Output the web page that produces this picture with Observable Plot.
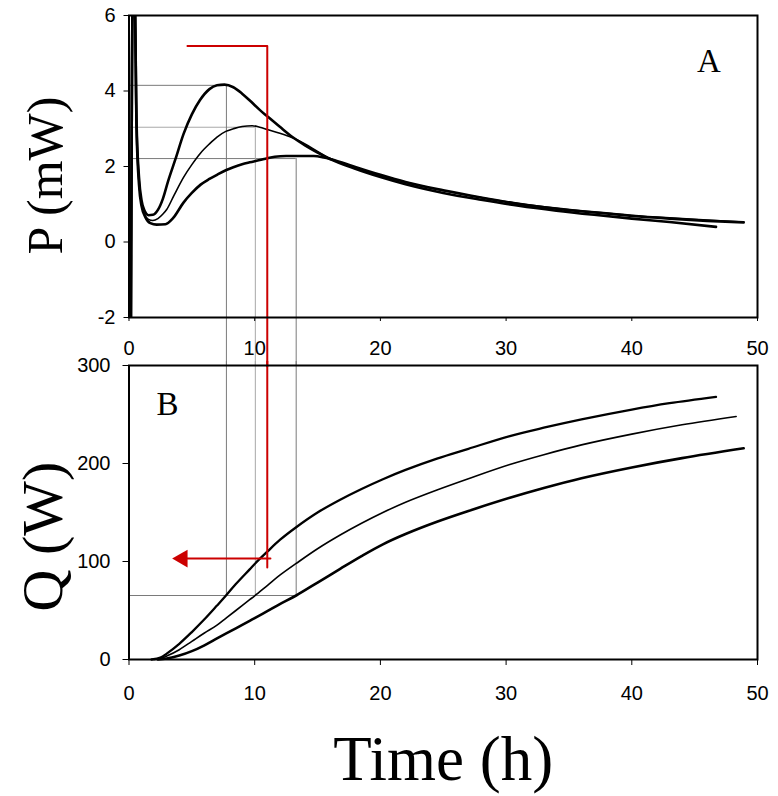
<!DOCTYPE html>
<html><head><meta charset="utf-8">
<script src="https://cdn.jsdelivr.net/npm/d3@7"></script>
<script src="https://cdn.jsdelivr.net/npm/@observablehq/plot@0.6"></script>
<style>
body{margin:0;background:#fff;}
#wrap{position:relative;width:778px;height:796px;background:#fff;overflow:hidden;}
#wrap svg{position:absolute;left:0;top:0;}
</style></head><body><div id="wrap"></div>
<script>
// ---------- Panel A : heat flow P (mW) vs time (h) ----------
const tA1 = [0.15,0.3,0.45,0.6,0.8,1.0,1.25,1.55,1.9,2.3,2.7,3.1,3.7,4.35,5.0,5.65,6.4,7.0,7.6,8.3,9.0,9.7,10.4,11.0,12.0,13.0,14.0,15.0,16.0,18.0,20.0,22.0,25.0,28.0,31.0,34.0,37.0,40.0,43.0,46.7];
const pA1 = [-2.5,6.5,6.5,3.2,1.7,1.1,0.82,0.71,0.72,0.85,1.15,1.6,2.2,2.87,3.38,3.76,4.05,4.15,4.17,4.1,3.93,3.72,3.5,3.33,3.05,2.78,2.56,2.37,2.2,1.94,1.72,1.53,1.3,1.12,0.96,0.83,0.72,0.62,0.53,0.40];
const tA2 = [0.15,0.3,0.45,0.6,0.8,1.0,1.25,1.55,1.9,2.3,2.7,3.0,3.6,4.35,5.0,5.7,6.4,7.0,7.7,8.3,9.0,9.8,10.4,11.0,12.0,13.0,14.0,15.0,16.0,18.0,20.0,22.0,25.0,28.0,31.0,34.0,37.0,40.0,43.0,46.0,48.9];
const pA2 = [-2.5,6.5,6.5,3.2,1.6,1.0,0.72,0.6,0.57,0.62,0.74,0.86,1.25,1.72,2.05,2.36,2.6,2.78,2.93,3.0,3.06,3.08,3.04,2.98,2.88,2.76,2.6,2.4,2.21,1.96,1.76,1.58,1.36,1.18,1.02,0.9,0.8,0.71,0.64,0.58,0.53];
const tA3 = [0.15,0.3,0.45,0.6,0.8,1.0,1.3,1.7,2.2,2.9,3.5,4.35,5.0,5.7,6.4,7.0,7.7,8.3,9.0,9.6,10.4,11.0,11.6,12.5,13.5,14.7,15.5,16.0,17.0,18.0,20.0,22.0,25.0,28.0,31.0,34.0,37.0,40.0,43.0,46.0,48.9];
const pA3 = [-2.5,6.5,6.5,3.0,1.5,0.95,0.66,0.5,0.46,0.47,0.63,1.05,1.3,1.52,1.67,1.78,1.9,1.98,2.06,2.11,2.17,2.22,2.26,2.28,2.28,2.28,2.24,2.2,2.1,1.99,1.78,1.59,1.37,1.18,1.01,0.88,0.78,0.69,0.62,0.56,0.52];

// ---------- Panel B : heat Q vs time (h) ----------
const tB1 = [1.8,2.5,3.0,4.0,5.0,6.0,7.0,7.7,8.5,9.6,10.0,11.0,12.0,13.3,15.0,16.8,18.5,20.2,22.0,24.5,27.0,30.3,33.0,36.0,40.0,43.0,46.7];
const qB1 = [0,2,6,16,28,41,55,65,77,92,97.5,110,122,135,150,163,174,184,193.5,205,215,228,236.5,245,255,261.5,268];
const tB2 = [2.0,2.5,3.0,4.0,5.0,6.0,7.0,7.7,8.5,9.6,10.0,11.0,12.0,13.3,15.0,16.8,18.5,20.2,22.0,24.5,27.0,30.3,33.0,36.0,40.0,44.0,48.3];
const qB2 = [0,1,3.5,10,18.5,27,35,42,50,61,65,75.5,86,98,113,127,139,150,160.5,173,184.5,199,209,219,230,239.5,248];
const tB3 = [2.3,3.0,4.0,5.0,6.0,7.0,7.7,8.5,9.6,10.0,11.0,12.0,13.3,15.0,16.8,18.5,20.2,22.0,24.5,27.0,30.3,33.0,36.0,40.0,44.0,48.9];
const qB3 = [0,1,4,8.5,14.5,21.5,26.3,31.8,39.5,42.3,49.3,56.5,65.3,78.5,92.5,105.5,117.5,128,140.5,151.5,165,175,185,196,205.5,215.5];

// ---------- ticks ----------
const xTicks = [0,10,20,30,40,50];
const pTicks = [-2,0,2,4,6];
const qTicks = [0,100,200,300];

// ---------- reference (peak) guide lines ----------
const peakT = [7.75, 10.05, 13.3];
const peakP = [4.15, 3.04, 2.21];
const peakGrey = ["#7a7a7a", "#a8a8a8", "#7a7a7a"];
const qRef = 65.3;
const pBelow = -3.3;   // extends guide lines below panel A into the gap
const qAbove = 304;    // extends guide lines above panel B into the gap

// ---------- red construction lines ----------
const redAt = [4.65, 11.0, 11.0];
const redAp = [5.19, 5.19, pBelow];
const redBt = [11.0, 11.0];
const redBq = [qAbove, 94];
const arrowT = [11.25, 4.6];
const arrowQ = [103, 103];
const arrowHeadT = 4.25;

const zipTP = (t, v) => t.map((d, i) => ({t: d, v: v[i]}));
const red = "#cc0000";
const serif = "Liberation Serif, Times New Roman, serif";
const W = 778, H = 796;
const common = {
  width: W, height: H, marginLeft: 128.5, marginRight: 21,
  x: {domain: [0, 50]},
  style: {background: "none", overflow: "visible", fontFamily: "Liberation Sans, Arial, sans-serif", color: "#000"}
};

const guidesA = peakT.map((t, i) => ({t, p: peakP[i], c: peakGrey[i]}));

const plotA = Plot.plot({
  ...common,
  marginTop: 15, marginBottom: H - 317,
  y: {domain: [-2, 6]},
  marks: [
    Plot.ruleY(guidesA, {y: "p", x1: 0, x2: "t", stroke: "c", strokeWidth: 1}),
    Plot.ruleX(guidesA, {x: "t", y1: "p", y2: pBelow, stroke: "c", strokeWidth: 1}),
    Plot.line(zipTP(tA3, pA3), {x: "t", y: "v", stroke: "#000", strokeWidth: 2.6, curve: "monotone-x", clip: true}),
    Plot.line(zipTP(tA2, pA2), {x: "t", y: "v", stroke: "#000", strokeWidth: 1.6, curve: "monotone-x", clip: true}),
    Plot.line(zipTP(tA1, pA1), {x: "t", y: "v", stroke: "#000", strokeWidth: 2.6, curve: "monotone-x", clip: true}),
    Plot.line(zipTP(redAt, redAp), {x: "t", y: "v", stroke: red, strokeWidth: 2}),
    Plot.frame({stroke: "#000", strokeWidth: 2}),
    Plot.axisY({ticks: pTicks, tickSize: 5, tickPadding: 8.5, fontSize: 20, tickFormat: d => String(d), label: null}),
    Plot.axisX({ticks: xTicks, tickSize: 4, tickPadding: 19, fontSize: 20, tickFormat: d => String(d), label: null}),
    Plot.text(["P (mW)"], {frameAnchor: "left", rotate: -90, dx: 61 - 128.5, dy: 9, fontSize: 50, fontFamily: serif, lineAnchor: "bottom", textAnchor: "middle", fill: "#000"}),
    Plot.text(["A"], {frameAnchor: "top-right", dx: -48.5, dy: 56, fontSize: 33, fontFamily: serif, lineAnchor: "bottom", textAnchor: "middle", fill: "#000"})
  ]
});

const plotB = Plot.plot({
  ...common,
  marginTop: 365, marginBottom: H - 659,
  y: {domain: [0, 300]},
  marks: [
    Plot.ruleX(guidesA, {x: "t", y1: qAbove, y2: qRef, stroke: "c", strokeWidth: 1}),
    Plot.ruleY([qRef], {x1: 0, x2: peakT[2], stroke: "#7a7a7a", strokeWidth: 1}),
    Plot.line(zipTP(tB3, qB3), {x: "t", y: "v", stroke: "#000", strokeWidth: 2.6, curve: "catmull-rom"}),
    Plot.line(zipTP(tB2, qB2), {x: "t", y: "v", stroke: "#000", strokeWidth: 1.6, curve: "catmull-rom"}),
    Plot.line(zipTP(tB1, qB1), {x: "t", y: "v", stroke: "#000", strokeWidth: 2.3, curve: "catmull-rom"}),
    Plot.line(zipTP(redBt, redBq), {x: "t", y: "v", stroke: red, strokeWidth: 2}),
    Plot.line(zipTP(arrowT, arrowQ), {x: "t", y: "v", stroke: red, strokeWidth: 2}),
    Plot.dot([{t: arrowHeadT, v: arrowQ[0]}], {x: "t", y: "v", symbol: "triangle", r: 6.6, rotate: -90, fill: red, stroke: "none"}),
    Plot.frame({stroke: "#000", strokeWidth: 2}),
    Plot.axisY({ticks: qTicks, tickSize: 6, tickPadding: 12.5, fontSize: 20, tickFormat: d => String(d), label: null}),
    Plot.axisX({ticks: xTicks, tickSize: 6, tickPadding: 20, fontSize: 20, tickFormat: d => String(d), label: null}),
    Plot.text(["Q (W)"], {frameAnchor: "left", rotate: -90, dx: 61 - 128.5, dy: 24, fontSize: 58, fontFamily: serif, lineAnchor: "bottom", textAnchor: "middle", fill: "#000"}),
    Plot.text(["B"], {frameAnchor: "top-left", dx: 38.5, dy: 49, fontSize: 33, fontFamily: serif, lineAnchor: "bottom", textAnchor: "middle", fill: "#000"}),
    Plot.text(["Time (h)"], {frameAnchor: "bottom", dy: 120, fontSize: 63, fontFamily: serif, lineAnchor: "bottom", textAnchor: "middle", fill: "#000"})
  ]
});

const wrap = document.getElementById("wrap");
wrap.appendChild(plotA);
wrap.appendChild(plotB);
</script>
</body></html>
